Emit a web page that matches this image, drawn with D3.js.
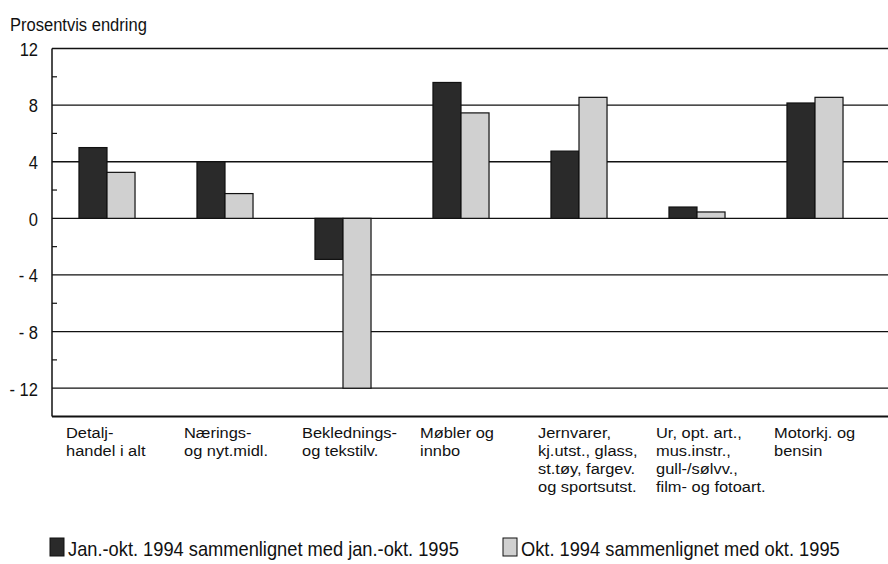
<!DOCTYPE html>
<html>
<head>
<meta charset="utf-8">
<script src="https://cdn.jsdelivr.net/npm/d3@7"></script>
<style>
  body { margin: 0; background: #fff; }
  text { font-family: "Liberation Sans", Arial, sans-serif; fill: #111; }
</style>
</head>
<body>
<script>
// categories (each label is split into lines)
const categories = [
  ["Detalj-", "handel i alt"],
  ["Nærings-", "og nyt.midl."],
  ["Beklednings-", "og tekstilv."],
  ["Møbler og", "innbo"],
  ["Jernvarer,", "kj.utst., glass,", "st.tøy, fargev.", "og sportsutst."],
  ["Ur, opt. art.,", "mus.instr.,", "gull-/sølvv.,", "film- og fotoart."],
  ["Motorkj. og", "bensin"]
];
const seriesNames = [
  "Jan.-okt. 1994 sammenlignet med jan.-okt. 1995",
  "Okt. 1994 sammenlignet med okt. 1995"
];
const janOkt = [5.0, 4.0, -2.9, 9.6, 4.75, 0.8, 8.15];
const okt    = [3.25, 1.75, -12.0, 7.45, 8.55, 0.45, 8.55];
const yTicks = [-12, -8, -4, 0, 4, 8, 12];
const yMinor = [-10, -6, -2, 2, 6, 10];
const colors = ["#2a2a2a", "#d0d0d0"];

const W = 888, H = 564;
const K = 0.87;          // horizontal squeeze: the original face is a narrow Helvetica
const FS = 19;

const svg = d3.select("body").append("svg")
    .attr("width", W).attr("height", H);

const idx = d3.range(categories.length);

const x0 = d3.scaleBand()
    .domain(idx)
    .range([48, 874])
    .paddingInner(0.525)
    .paddingOuter(0.2625);

const x1 = d3.scaleBand()
    .domain([0, 1])
    .range([0, x0.bandwidth()]);

const y = d3.scaleLinear()
    .domain([-14, 12])
    .range([416.5, 48.5]);

const left = 52, right = W;

// text with a horizontal squeeze
function narrowText(sel, x, yy, size, k = K) {
  return sel.append("text")
      .attr("transform", `translate(${x},${yy}) scale(${k},1)`)
      .attr("font-size", size);
}

// horizontal grid lines
svg.append("g")
  .selectAll("line")
  .data(yTicks)
  .join("line")
    .attr("x1", left).attr("x2", right)
    .attr("y1", d => y(d)).attr("y2", d => y(d))
    .attr("stroke", "#111").attr("stroke-width", 1.3);

// y axis: labels on the left, minor ticks inside
const yAxis = d3.axisLeft(y)
    .tickValues(yTicks)
    .tickSize(0)
    .tickPadding(14)
    .tickFormat(d => d < 0 ? "- " + Math.abs(d) : d);

const ga = svg.append("g")
    .attr("transform", `translate(${left},0)`)
    .call(yAxis);
ga.select(".domain").remove();
ga.selectAll("text")
    .attr("font-size", FS)
    .attr("font-family", "Liberation Sans, Arial, sans-serif")
    .attr("fill", "#111")
    .attr("x", -14 / K)
    .attr("dy", "0.36em")
    .attr("transform", `scale(${K},1)`);

svg.append("g")
  .selectAll("line")
  .data(yMinor)
  .join("line")
    .attr("x1", left).attr("x2", left + 5)
    .attr("y1", d => y(d)).attr("y2", d => y(d))
    .attr("stroke", "#111").attr("stroke-width", 1.2);

// bars
const series = [janOkt, okt];
series.forEach((vals, s) => {
  svg.append("g")
    .selectAll("rect")
    .data(vals)
    .join("rect")
      .attr("x", (d, i) => x0(i) + x1(s))
      .attr("width", x1.bandwidth())
      .attr("y", d => y(Math.max(0, d)))
      .attr("height", d => Math.abs(y(d) - y(0)))
      .attr("fill", colors[s])
      .attr("stroke", "#111")
      .attr("stroke-width", 1.2);
});

// axis frame: left and bottom
svg.append("line")
    .attr("x1", left).attr("x2", left)
    .attr("y1", y(12)).attr("y2", y(-14))
    .attr("stroke", "#111").attr("stroke-width", 1.5);
svg.append("line")
    .attr("x1", left).attr("x2", right)
    .attr("y1", y(-14)).attr("y2", y(-14))
    .attr("stroke", "#111").attr("stroke-width", 2);

// category labels, one text per line (size kept so the line boxes don't overlap)
categories.forEach((lines, i) => {
  lines.forEach((line, j) => {
    narrowText(svg, x0(i) + x0.bandwidth() / 2 - 41, 438 + j * 18, 15.5, 1.06).text(line);
  });
});

// y title
narrowText(svg, 10, 31, FS).text("Prosentvis endring");

// legend
const legX = [50, 503];
seriesNames.forEach((name, i) => {
  svg.append("rect")
      .attr("x", legX[i]).attr("y", 538)
      .attr("width", 14).attr("height", 18)
      .attr("fill", colors[i])
      .attr("stroke", "#111").attr("stroke-width", 1);
  narrowText(svg, legX[i] + 18, 556, 21).text(name);
});
</script>
</body>
</html>
